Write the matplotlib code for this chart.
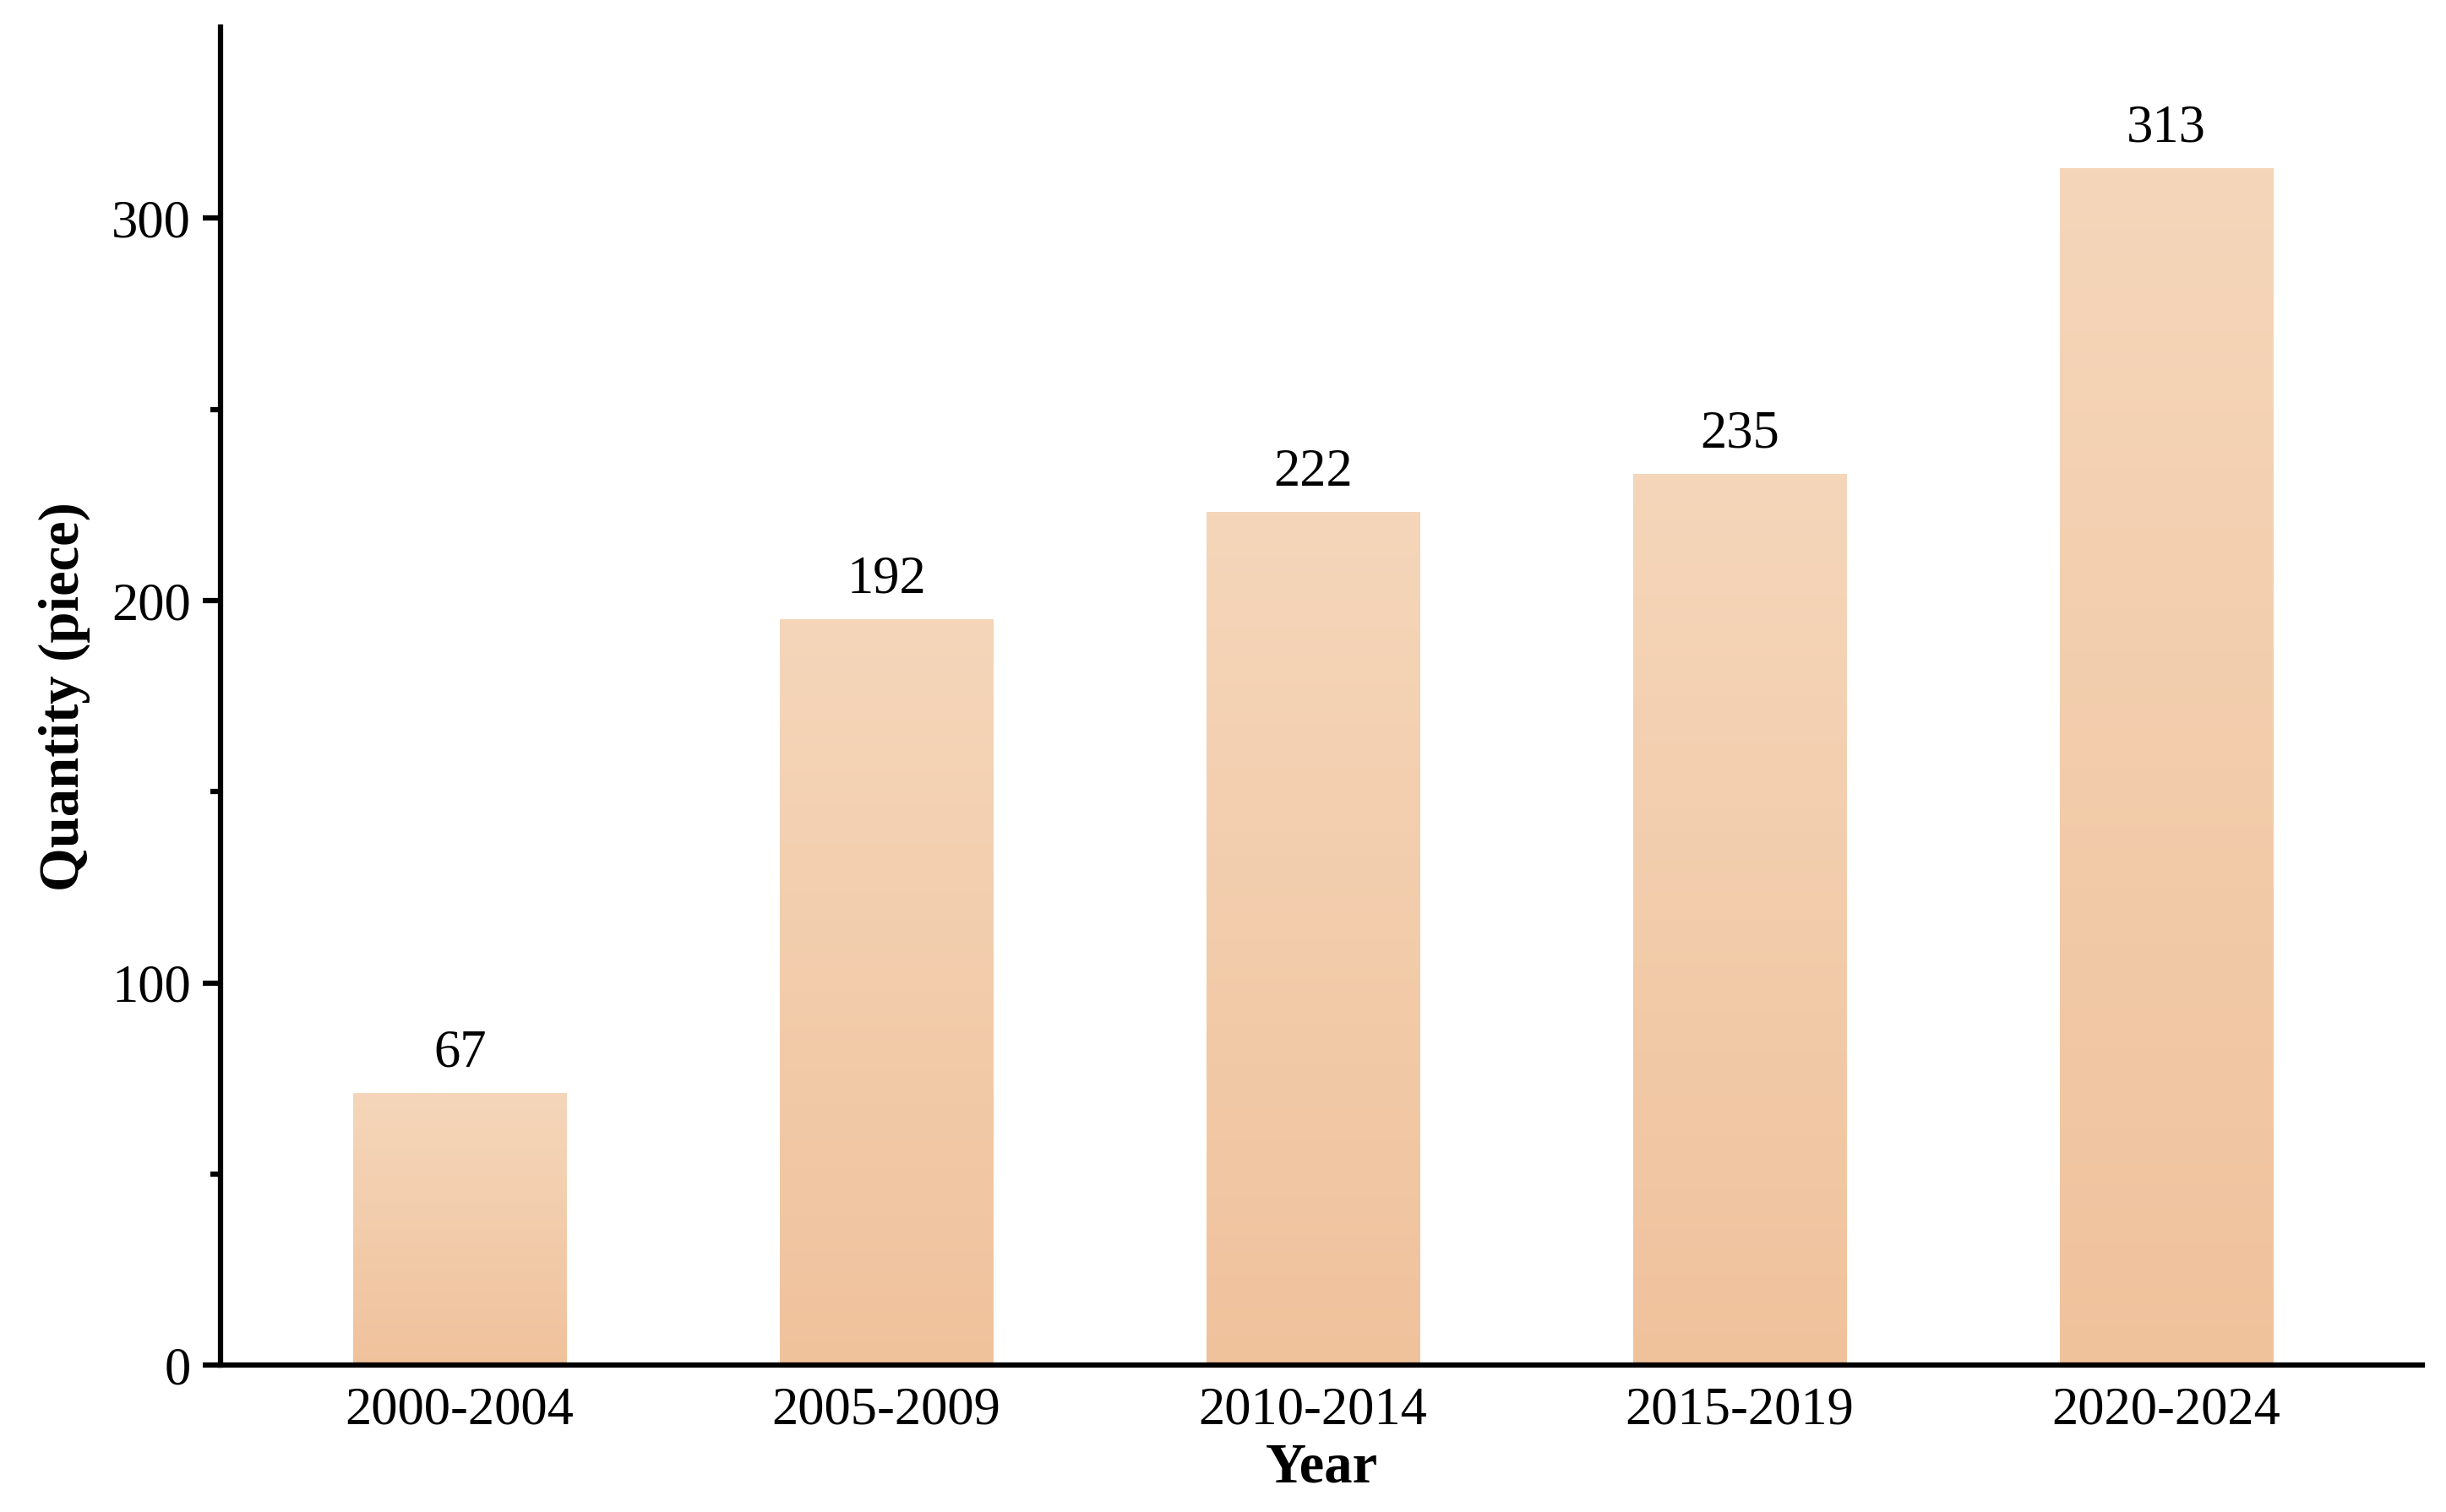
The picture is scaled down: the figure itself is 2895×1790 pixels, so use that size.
import matplotlib
matplotlib.use("Agg")
import matplotlib.pyplot as plt
import numpy as np
from matplotlib.colors import LinearSegmentedColormap

categories = ["2000-2004", "2005-2009", "2010-2014", "2015-2019", "2020-2024"]
bar_heights = [71, 195, 223, 233, 313]
labels = ["67", "192", "222", "235", "313"]

plt.rcParams['font.family'] = ['Liberation Serif', 'DejaVu Serif']
fig = plt.figure(figsize=(9.65, 5.967), dpi=300)
ax = fig.add_axes([0.0903, 0.097, 0.9, 0.885])
cmap = LinearSegmentedColormap.from_list("g", ["#F0C29C", "#F5D6BA"])
grad = np.linspace(0, 1, 256).reshape(-1, 1)
w = 0.5
x = np.arange(len(categories))
bars = ax.bar(x, bar_heights, width=w, color="none")
for xi, h, lab in zip(x, bar_heights, labels):
    ax.imshow(grad, extent=(xi - w/2, xi + w/2, 0, h), origin="lower",
              cmap=cmap, aspect="auto", zorder=1)
    ax.text(xi, h + 4, lab, ha="center", va="bottom", fontsize=15)
ax.set_xlim(-0.56, 4.6)
ax.set_ylim(0, 350)
ax.set_xticks(x, categories)
ax.set_yticks([0, 100, 200, 300])
ax.set_yticks([50, 150, 250], minor=True)
for s in ["top", "right"]:
    ax.spines[s].set_visible(False)
for s in ["left", "bottom"]:
    ax.spines[s].set_linewidth(1.5)
ax.tick_params(axis="both", which="major", labelsize=15, width=1.5, length=5)
ax.tick_params(axis="y", which="minor", width=1.5, length=3)
ax.tick_params(axis="x", length=0, pad=6)
ax.set_xlabel("Year", fontsize=16, fontweight="bold", labelpad=2)
ax.set_ylabel("Quantity (piece)", fontsize=16, fontweight="bold", labelpad=6)
fig.savefig("out.png", dpi=300)
